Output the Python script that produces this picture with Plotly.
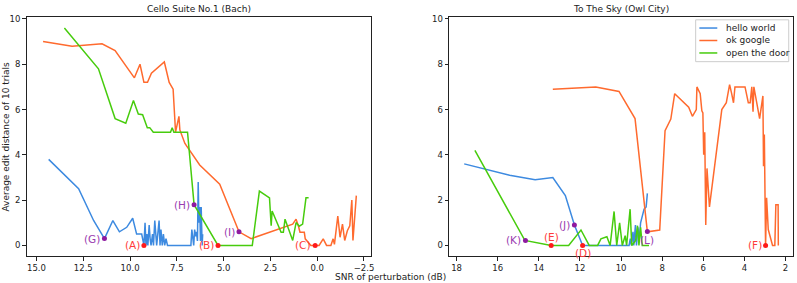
import plotly.graph_objects as go

W, H = 797, 283

# ---------------- data: left panel (Cello Suite No.1 (Bach)) ----------------
bach_hello_x = [14.35, 12.75, 11.95, 11.37, 10.92, 10.57, 10.18, 9.86, 9.65, 9.38, 9.26, 9.20, 9.15,
                9.10, 9.05, 8.98, 8.93, 8.88, 8.80, 8.75, 8.68, 8.63, 8.58, 8.52, 8.45, 8.40, 8.35,
                8.28, 8.22, 8.15, 8.08, 8.00, 6.75, 6.70, 6.66, 6.60, 6.55, 6.50, 6.45, 6.40, 6.36,
                6.32, 6.28, 6.24, 6.20, 6.15, 6.12]
bach_hello_y = [3.8, 2.5, 1.1, 0.3, 1.1, 0.6, 0.8, 1.2, 0.5, 0.5, 0.0, 1.0, 0.0,
                0.5, 0.0, 0.9, 0.3, 0.0, 0.5, 0.0, 1.1, 0.3, 0.0, 0.5, 1.1, 0.0, 0.7,
                0.0, 0.5, 0.0, 0.3, 0.0, 0.0, 0.7, 0.3, 0.0, 0.7, 0.4, 0.6, 0.2, 2.8,
                1.0, 1.7, 0.2, 1.7, 0.0, 0.5]

bach_google_x = [14.65, 13.1, 11.5, 10.8, 9.77, 9.47, 9.26, 9.07, 8.86, 8.17, 7.91, 7.70, 7.57,
                 7.39, 7.34, 7.07, 6.28, 5.21, 4.18, 3.53, 1.31, 1.13, 1.01, 0.92, 0.69, 0.64,
                 0.34, 0.11, -0.10, -0.32, -0.50, -0.73, -0.85, -0.92, -1.10, -1.22, -1.35,
                 -1.47, -1.61, -1.74, -1.85, -1.91, -2.09]
bach_google_y = [9.0, 8.8, 8.9, 8.6, 7.4, 8.0, 7.2, 7.2, 7.6, 8.1, 7.2, 6.9, 5.0,
                 5.7, 5.1, 4.5, 3.55, 2.7, 0.6, 0.3, 0.94, 1.16, 0.87, 0.58, 0.58, 0.29,
                 0.0, 0.0, 0.0, 0.29, 0.0, 0.0, 0.29, 0.05, 1.3, 0.36, 0.94,
                 0.22, 0.65, 0.87, 2.0, 0.22, 2.2]

bach_door_x = [13.51, 11.69, 10.80, 10.23, 9.82, 9.56, 9.33, 9.08, 8.95, 8.76, 7.84, 7.75, 7.66,
               6.93, 6.58, 5.30, 3.47, 3.09, 2.55, 2.46, 2.41, 1.93, 1.81, 1.72, 1.31, 1.13,
               0.96, 0.78, 0.60, 0.46]
bach_door_y = [9.6, 7.8, 5.6, 5.4, 6.4, 5.8, 5.77, 5.2, 5.2, 5.0, 5.0, 5.2, 5.0,
               5.0, 1.8, 0.0, 0.0, 2.4, 2.1, 0.87, 1.52, 0.58, 0.58, 1.16, 0.22, 1.01,
               0.85, 0.94, 2.1, 2.1]

bach_red_labels = ["(A)", "(B)", "(C)"]
bach_red_x = [9.26, 5.30, 0.11]
bach_red_y = [0.0, 0.0, 0.0]
bach_purple_labels = ["(G)", "(H)", "(I)"]
bach_purple_x = [11.37, 6.58, 4.18]
bach_purple_y = [0.3, 1.8, 0.6]

# ---------------- data: right panel (To The Sky (Owl City)) ----------------
sky_hello_x = [17.63, 15.42, 14.18, 13.32, 12.71, 12.27, 11.87, 9.61, 9.55, 9.50, 9.42, 9.38,
               9.30, 9.25, 9.18, 9.12, 9.05, 8.95, 8.88, 8.78, 8.72]
sky_hello_y = [3.6, 3.1, 2.9, 3.0, 2.2, 0.9, 0.0, 0.0, 0.3, 0.0, 0.6, 0.0,
               0.9, 0.0, 0.8, 0.2, 1.0, 1.4, 1.6, 1.7, 2.3]

sky_google_x = [13.32, 11.23, 10.10, 9.32, 8.72, 8.12, 7.86, 7.58, 7.39, 7.01, 6.71, 6.53, 6.34,
                6.31, 6.15, 6.07, 6.02, 5.98, 5.93, 5.88, 5.82, 5.70, 5.10, 4.88, 4.72, 4.62,
                4.53, 4.46, 3.97, 3.81, 3.72, 3.64, 3.58, 3.54, 3.26, 3.10, 3.07, 3.03, 2.97,
                2.92, 2.84, 2.63, 2.52, 2.47, 2.36, 2.35]
sky_google_y = [6.9, 7.0, 6.8, 5.6, 0.6, 0.68, 5.07, 5.58, 6.7, 6.38, 6.1, 5.7, 6.0,
                7.0, 6.7, 5.94, 5.85, 4.0, 5.0, 0.9, 3.4, 1.7, 6.0, 6.3, 7.1, 6.7,
                6.3, 7.0, 7.0, 6.3, 6.3, 7.0, 5.9, 7.0, 5.6, 6.6, 3.5, 4.9, 0.0,
                2.1, 0.7, 0.0, 0.0, 1.8, 1.8, 0.0]

sky_door_x = [17.11, 14.68, 13.40, 12.55, 11.95, 11.55, 11.14, 10.98, 10.69, 10.53, 10.34, 10.21,
              10.07, 9.94, 9.80, 9.73, 9.56, 9.48, 9.29, 9.20, 9.13, 9.05, 8.97, 8.64]
sky_door_y = [4.2, 0.22, 0.0, 0.0, 0.68, 0.0, 0.0, 0.29, 0.38, 0.0, 1.5, 0.0,
              1.0, 0.0, 0.43, 0.0, 1.6, 0.0, 0.22, 0.87, 0.0, 0.8, 0.0, 0.0]

sky_red_labels = ["(D)", "(E)", "(F)"]
sky_red_x = [11.87, 13.40, 2.97]
sky_red_y = [0.0, 0.0, 0.0]
sky_purple_labels = ["(J)", "(K)", "(L)"]
sky_purple_x = [12.27, 14.65, 8.72]
sky_purple_y = [0.9, 0.22, 0.61]

series_names = ["hello world", "ok google", "open the door"]
panel_titles = ["Cello Suite No.1 (Bach)", "To The Sky (Owl City)"]
y_ticks = [0, 2, 4, 6, 8, 10]
bach_x_ticks = [15.0, 12.5, 10.0, 7.5, 5.0, 2.5, 0.0, -2.5]
sky_x_ticks = [18, 16, 14, 12, 10, 8, 6, 4, 2]

# ---------------- styling ----------------
COLORS = ["#3d8ae0", "#ff6a2e", "#47cc0d"]
RED = "#ff1a1a"
RED_TXT = "#ff3b3b"
PURPLE = "#8e1aa0"
PURPLE_TXT = "#9a3cb0"
FONT = "DejaVu Sans"
TXT = "#222222"

fig = go.Figure()

bach_series = [(bach_hello_x, bach_hello_y), (bach_google_x, bach_google_y), (bach_door_x, bach_door_y)]
sky_series = [(sky_hello_x, sky_hello_y), (sky_google_x, sky_google_y), (sky_door_x, sky_door_y)]

for i, (xs, ys) in enumerate(bach_series):
    fig.add_trace(go.Scatter(x=xs, y=ys, mode="lines", name=series_names[i],
                             line=dict(color=COLORS[i], width=1.5), showlegend=False,
                             xaxis="x", yaxis="y"))
for i, (xs, ys) in enumerate(sky_series):
    fig.add_trace(go.Scatter(x=xs, y=ys, mode="lines", name=series_names[i],
                             line=dict(color=COLORS[i], width=1.5), showlegend=False,
                             xaxis="x2", yaxis="y2"))

# markers
for xs, ys, col, xa, ya in [
    (bach_red_x, bach_red_y, RED, "x", "y"),
    (bach_purple_x, bach_purple_y, PURPLE, "x", "y"),
    (sky_red_x, sky_red_y, RED, "x2", "y2"),
    (sky_purple_x, sky_purple_y, PURPLE, "x2", "y2"),
]:
    fig.add_trace(go.Scatter(x=xs, y=ys, mode="markers", showlegend=False,
                             marker=dict(color=col, size=5), xaxis=xa, yaxis=ya,
                             hoverinfo="skip"))

annotations = []
shapes = []

def lab(text, x, y, color, xref, yref, pos):
    kw = dict(text=text, x=x, y=y, xref=xref, yref=yref, showarrow=False,
              font=dict(family=FONT, size=10.5, color=color))
    if pos == "left":
        kw.update(xanchor="right", yanchor="middle", xshift=-2, yshift=0)
    elif pos == "above":
        kw.update(xanchor="center", yanchor="middle", yshift=8)
    elif pos == "below":
        kw.update(xanchor="center", yanchor="middle", yshift=-8)
    annotations.append(kw)

for t, x, y in zip(bach_red_labels, bach_red_x, bach_red_y):
    lab(t, x, y, RED_TXT, "x", "y", "left")
for t, x, y in zip(bach_purple_labels, bach_purple_x, bach_purple_y):
    lab(t, x, y, PURPLE_TXT, "x", "y", "left")

sky_red_pos = ["below", "above", "left"]
for t, x, y, p in zip(sky_red_labels, sky_red_x, sky_red_y, sky_red_pos):
    lab(t, x, y, RED_TXT, "x2", "y2", p)
sky_purple_pos = ["left", "left", "below"]
for t, x, y, p in zip(sky_purple_labels, sky_purple_x, sky_purple_y, sky_purple_pos):
    lab(t, x, y, PURPLE_TXT, "x2", "y2", p)

# domains (pixel based)
def px_x(p):
    return p / W

def px_y(p):
    return (H - p) / H

dom1 = [px_x(26.7), px_x(372.7)]
dom2 = [px_x(450.7), px_x(795.5)]
ydom = [px_y(256), px_y(14.3)]

# titles
for title, dom in zip(panel_titles, [dom1, dom2]):
    annotations.append(dict(text=title, x=(dom[0] + dom[1]) / 2, y=px_y(6),
                            xref="paper", yref="paper", showarrow=False, xanchor="center",
                            yanchor="middle", font=dict(family=FONT, size=9, color=TXT)))
annotations.append(dict(text="SNR of perturbation (dB)", x=px_x(392), y=px_y(277),
                        xref="paper", yref="paper", showarrow=False, xanchor="center", yanchor="middle",
                        font=dict(family=FONT, size=9, color=TXT)))
annotations.append(dict(text="Average edit distance of 10 trials", x=px_x(6), y=px_y(135),
                        xref="paper", yref="paper", showarrow=False, xanchor="center", yanchor="middle",
                        textangle=-90, font=dict(family=FONT, size=9, color=TXT)))

# manual legend (matplotlib-like compact box)
shapes.append(dict(type="rect", xref="paper", yref="paper",
                   x0=px_x(698.3), x1=px_x(791.7), y0=px_y(59.3), y1=px_y(17),
                   line=dict(color="#cccccc", width=1), fillcolor="rgba(255,255,255,0.9)",
                   layer="above"))
for i, name in enumerate(series_names):
    yy = 25.3 + i * 12.6
    shapes.append(dict(type="line", xref="paper", yref="paper",
                       x0=px_x(702), x1=px_x(720), y0=px_y(yy), y1=px_y(yy),
                       line=dict(color=COLORS[i], width=1.5), layer="above"))
    annotations.append(dict(text=name, x=px_x(726.5), y=px_y(yy), xref="paper", yref="paper",
                            showarrow=False, xanchor="left", yanchor="middle",
                            font=dict(family=FONT, size=9, color=TXT)))

axis_common = dict(showgrid=False, zeroline=False, showline=True, mirror=True, linecolor=TXT,
                   linewidth=1, ticks="outside", ticklen=3.5, tickwidth=1, tickcolor=TXT,
                   tickfont=dict(family=FONT, size=8.5, color=TXT))

fig.update_layout(
    width=W, height=H,
    margin=dict(l=0, r=0, t=0, b=0),
    paper_bgcolor="white", plot_bgcolor="white",
    font=dict(family=FONT, size=9, color=TXT),
    xaxis=dict(domain=dom1, range=[15.53, -2.89], tickvals=bach_x_ticks,
               ticktext=[("\u22122.5" if v < 0 else f"{v:.1f}") for v in bach_x_ticks],
               anchor="y", **axis_common),
    yaxis=dict(domain=ydom, range=[-0.48, 10.08], tickvals=y_ticks, anchor="x", **axis_common),
    xaxis2=dict(domain=dom2, range=[18.37, 1.66], tickvals=sky_x_ticks, anchor="y2", **axis_common),
    yaxis2=dict(domain=ydom, range=[-0.48, 10.08], tickvals=y_ticks, anchor="x2", **axis_common),
    annotations=annotations,
    shapes=shapes,
    showlegend=False,
)

fig.write_html("out.html", config={"displayModeBar": False},
               post_script="document.body.style.margin='0';document.body.style.overflow='hidden';")
